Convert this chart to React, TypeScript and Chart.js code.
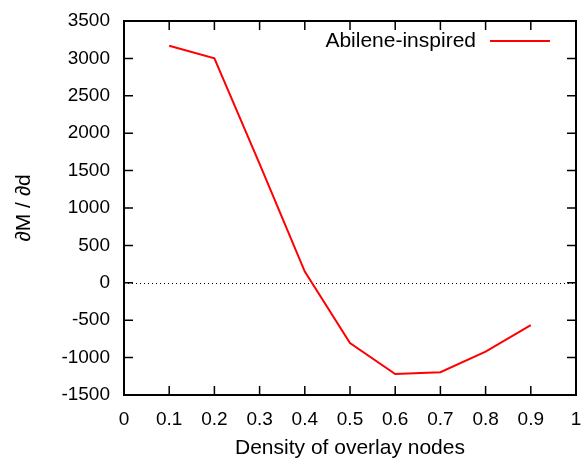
import React, { useEffect, useRef } from "react";
import { Chart, registerables } from "chart.js";

Chart.register(...registerables);

// Overlay density values and the measured sensitivity dM/dd at each one
const densities = [0.1, 0.2, 0.3, 0.4, 0.5, 0.6, 0.7, 0.8, 0.9];
const derivative = [3170, 3000, 1590, 150, -805, -1220, -1195, -920, -565];
const seriesLabel = "Abilene-inspired";
const xTitle = "Density of overlay nodes";
const yTitle = "\u2202M / \u2202d";
const xRange = [0, 1];
const yRange = [-1500, 3500];
const xStep = 0.1;
const yStep = 500;

const FONT = "'Liberation Sans', Arial, Helvetica, sans-serif";
const LINE_RED = "#ff0000";

// Draws a gnuplot-style frame: full border, inward ticks on all four sides,
// a dotted zero line, and the key in the upper-right corner.
const framePlugin = {
  id: "frame",
  beforeDatasetsDraw(chart: any) {
    const { ctx, chartArea, scales } = chart;
    const y0 = scales.y.getPixelForValue(0);
    ctx.save();
    ctx.strokeStyle = "#000";
    ctx.lineWidth = 1;
    ctx.setLineDash([1, 3]);
    ctx.beginPath();
    ctx.moveTo(chartArea.left, Math.round(y0) + 0.5);
    ctx.lineTo(chartArea.right, Math.round(y0) + 0.5);
    ctx.stroke();
    ctx.restore();
  },
  afterDraw(chart: any) {
    const { ctx, chartArea, scales } = chart;
    const { left, right, top, bottom } = chartArea;
    const tick = 9;
    ctx.save();
    ctx.strokeStyle = "#000";
    ctx.lineWidth = 1.5;
    ctx.beginPath();
    scales.x.ticks.forEach((t: any) => {
      const px = scales.x.getPixelForValue(t.value);
      ctx.moveTo(px, bottom);
      ctx.lineTo(px, bottom - tick);
      ctx.moveTo(px, top);
      ctx.lineTo(px, top + tick);
    });
    scales.y.ticks.forEach((t: any) => {
      const py = scales.y.getPixelForValue(t.value);
      ctx.moveTo(left, py);
      ctx.lineTo(left + tick, py);
      ctx.moveTo(right, py);
      ctx.lineTo(right - tick, py);
    });
    ctx.stroke();

    ctx.lineWidth = 2;
    ctx.strokeRect(left, top, right - left, bottom - top);

    // key
    const ky = top + 20;
    const lineEnd = right - 26;
    const lineStart = right - 86;
    ctx.fillStyle = "#000";
    ctx.font = `21px ${FONT}`;
    ctx.textAlign = "right";
    ctx.textBaseline = "middle";
    ctx.fillText(chart.data.datasets[0].label, right - 100, ky);
    ctx.strokeStyle = LINE_RED;
    ctx.lineWidth = 2;
    ctx.beginPath();
    ctx.moveTo(lineStart, ky);
    ctx.lineTo(lineEnd, ky);
    ctx.stroke();
    ctx.restore();
  },
};

export default function App() {
  const canvasRef = useRef<HTMLCanvasElement | null>(null);

  useEffect(() => {
    document.body.style.margin = "0";
    const canvas = canvasRef.current;
    if (!canvas) return;
    const chart = new Chart(canvas, {
      type: "line",
      data: {
        datasets: [
          {
            label: seriesLabel,
            data: densities.map((d, i) => ({ x: d, y: derivative[i] })),
            borderColor: LINE_RED,
            backgroundColor: LINE_RED,
            borderWidth: 2,
            pointRadius: 0,
            tension: 0,
            fill: false,
          },
        ],
      },
      options: {
        animation: false,
        responsive: false,
        maintainAspectRatio: false,
        devicePixelRatio: 1,
        layout: { padding: { left: 0, top: 21, right: 11, bottom: 0 } },
        plugins: {
          legend: { display: false },
          tooltip: { enabled: false },
        },
        scales: {
          x: {
            type: "linear",
            min: xRange[0],
            max: xRange[1],
            grid: { display: false, drawTicks: true, tickLength: 10 },
            border: { display: false },
            ticks: {
              stepSize: xStep,
              color: "#000",
              padding: 3,
              maxRotation: 0,
              autoSkip: false,
              font: { family: FONT, size: 19 },
              callback: (v: any) => String(Math.round(Number(v) * 10) / 10),
            },
            title: {
              display: true,
              text: xTitle,
              color: "#000",
              font: { family: FONT, size: 21 },
              padding: { top: 0, bottom: 3 },
            },
            afterFit: (scale: any) => {
              scale.height = 69;
            },
          },
          y: {
            type: "linear",
            min: yRange[0],
            max: yRange[1],
            grid: { display: false, drawTicks: true, tickLength: 11 },
            border: { display: false },
            ticks: {
              stepSize: yStep,
              color: "#000",
              padding: 3,
              autoSkip: false,
              font: { family: FONT, size: 19 },
              callback: (v: any) => String(v),
            },
            title: {
              display: true,
              text: yTitle,
              color: "#000",
              font: { family: FONT, size: 21 },
              padding: { top: 12, bottom: 0 },
            },
            afterFit: (scale: any) => {
              scale.width = 124;
            },
          },
        },
      },
      plugins: [framePlugin],
    });
    return () => chart.destroy();
  }, []);

  return (
    <div style={{ width: 587, height: 464 }}>
      <canvas ref={canvasRef} width={587} height={464} style={{ display: "block" }} />
    </div>
  );
}
